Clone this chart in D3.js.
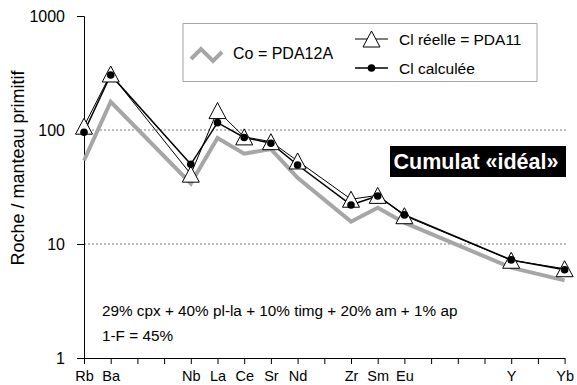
<!DOCTYPE html>
<html><head><meta charset="utf-8">
<script src="https://cdn.jsdelivr.net/npm/d3@7"></script>
<style>body{margin:0;background:#fff}svg{display:block;font-family:"Liberation Sans",Arial,sans-serif}</style>
</head><body><svg id="c" width="577" height="385"></svg>
<script>
// tick slots along x (19 positions, labels on some)
const xSlots = ["Rb","Ba","","","Nb","La","Ce","Sr","Nd","","Zr","Sm","Eu","","","","Y","","Yb"];
const elements = ["Rb","Ba","Nb","La","Ce","Sr","Nd","Zr","Sm","Eu","Y","Yb"];
const coValues   = [54, 177, 34, 85, 62, 68, 38, 15.7, 20.8, 15.4, 6.2, 4.8];
const clReelle   = [108, 310, 41, 148, 87, 79, 53.5, 24.7, 26.7, 17.7, 7.2, 6.07];
const clCalculee = [95.5, 304, 50, 116, 86, 76.5, 49.3, 22, 26.4, 18, 7.25, 5.95];
const yTicks = [1, 10, 100, 1000];
const gridValues = [10, 100];

const svg = d3.select("#c");
const x = d3.scaleLinear().domain([0, xSlots.length - 1]).range([84, 564.6]);
const y = d3.scaleLog().domain([1, 1000]).range([358, 16]);
const xi = e => xSlots.indexOf(e);
const FF = "Liberation Sans, Arial, sans-serif";

// grid
svg.append("g").selectAll("line").data(gridValues).join("line")
  .attr("x1", 84).attr("x2", 566).attr("y1", d => y(d)).attr("y2", d => y(d))
  .attr("stroke", "#555").attr("stroke-width", 0.8).attr("stroke-dasharray", "2,2");

// axes
const yAxis = d3.axisLeft(y).tickValues(yTicks).tickFormat(d3.format("d")).tickSize(7).tickPadding(4);
const gy = svg.append("g").attr("transform", "translate(84,0)").call(yAxis);
gy.select(".domain").attr("stroke", "#000");
gy.selectAll(".tick text").attr("font-size", 16).attr("fill", "#000")
  .attr("font-family", FF).attr("dx", -8);

const xAxis = d3.axisBottom(x).tickValues(d3.range(xSlots.length)).tickFormat(i => xSlots[i]).tickSize(6).tickSizeOuter(0).tickPadding(7);
const gx = svg.append("g").attr("transform", "translate(0,358)").call(xAxis);
gx.select(".domain").attr("stroke", "#000");
gx.selectAll(".tick text").attr("font-size", 14.5).attr("fill", "#000")
  .attr("font-family", FF);

// y label
svg.append("text").attr("transform", "translate(24,168) rotate(-90)")
  .attr("text-anchor", "middle").attr("font-size", 18).text("Roche / manteau primitif");

const line = d3.line().x((d, i) => x(xi(elements[i]))).y(d => y(d));

svg.append("path").datum(coValues).attr("d", line).attr("fill", "none")
  .attr("stroke", "#a6a6a6").attr("stroke-width", 4).attr("stroke-linejoin", "miter");
svg.append("path").datum(clReelle).attr("d", line).attr("fill", "none")
  .attr("stroke", "#000").attr("stroke-width", 1);
svg.append("path").datum(clCalculee).attr("d", line).attr("fill", "none")
  .attr("stroke", "#000").attr("stroke-width", 1.5);

const tri = "M0,-8L8.5,8L-8.5,8Z";
svg.append("g").selectAll("path").data(clReelle).join("path")
  .attr("d", tri).attr("transform", (d, i) => `translate(${x(xi(elements[i]))},${y(d)})`)
  .attr("fill", "#fff").attr("stroke", "#000").attr("stroke-width", 1);
svg.append("g").selectAll("circle").data(clCalculee).join("circle")
  .attr("cx", (d, i) => x(xi(elements[i]))).attr("cy", d => y(d)).attr("r", 3.8).attr("fill", "#000");

// legend
const lg = svg.append("g");
lg.append("rect").attr("x", 183).attr("y", 23.5).attr("width", 354).attr("height", 58)
  .attr("fill", "#fff").attr("stroke", "#a6a6a6").attr("stroke-width", 1);
lg.append("polyline").attr("points", "191,59 201,49 213,61 222,52").attr("fill", "none")
  .attr("stroke", "#a6a6a6").attr("stroke-width", 4);
lg.append("text").attr("x", 233).attr("y", 59).attr("font-size", 16).text("Co = PDA12A");
lg.append("line").attr("x1", 355).attr("x2", 388).attr("y1", 39).attr("y2", 39).attr("stroke", "#000");
lg.append("path").attr("d", tri).attr("transform", "translate(371.5,39)").attr("fill", "#fff").attr("stroke", "#000");
lg.append("text").attr("x", 399).attr("y", 44.5).attr("font-size", 15.5).text("Cl réelle = PDA11");
lg.append("line").attr("x1", 355).attr("x2", 388).attr("y1", 68).attr("y2", 68).attr("stroke", "#000").attr("stroke-width", 1.5);
lg.append("circle").attr("cx", 371.5).attr("cy", 68).attr("r", 3.8);
lg.append("text").attr("x", 399).attr("y", 73.5).attr("font-size", 15.5).text("Cl calculée");

// cumulat box
svg.append("rect").attr("x", 390).attr("y", 146).attr("width", 176).attr("height", 31).attr("fill", "#000");
svg.append("text").attr("x", 476).attr("y", 168.5).attr("text-anchor", "middle").attr("font-size", 21.5)
  .attr("font-weight", "bold").attr("fill", "#fff").text("Cumulat «idéal»");

// annotations
svg.append("text").attr("x", 102).attr("y", 316).attr("font-size", 15.3).text("29% cpx + 40% pl-la + 10% timg + 20% am + 1% ap");
svg.append("text").attr("x", 102).attr("y", 341).attr("font-size", 15.3).text("1-F = 45%");
</script></body></html>
